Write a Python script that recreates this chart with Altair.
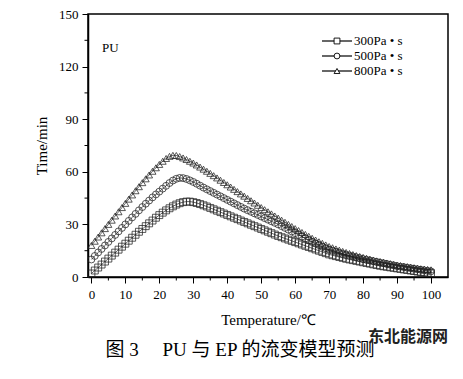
import altair as alt
import pandas as pd

# ---------------- data ----------------
temperature = list(range(0, 101))

time_300 = [2.0, 3.7, 5.4, 7.1, 8.8, 10.5, 12.2, 13.9, 15.6, 17.3,
            19.0, 20.7, 22.4, 24.1, 25.8, 27.4, 29.0, 30.6, 32.2, 33.8,
            35.3, 36.7, 38.0, 39.2, 40.3, 41.3, 42.1, 42.7, 43.0, 43.0,
            42.7, 42.2, 41.6, 40.9, 40.2, 39.4, 38.6, 37.8, 37.0, 36.2,
            35.4, 34.6, 33.8, 33.0, 32.2, 31.4, 30.6, 29.8, 29.0, 28.2,
            27.4, 26.6, 25.8, 25.0, 24.2, 23.4, 22.7, 22.0, 21.3, 20.6,
            19.9, 19.2, 18.5, 17.8, 17.1, 16.4, 15.7, 15.0, 14.3, 13.6,
            12.9, 12.4, 11.9, 11.4, 10.9, 10.4, 10.0, 9.6, 9.2, 8.8,
            8.4, 8.0, 7.6, 7.2, 6.8, 6.4, 6.1, 5.8, 5.5, 5.2,
            4.9, 4.6, 4.3, 4.0, 3.7, 3.4, 3.1, 2.8, 2.6, 2.4, 2.2]

time_500 = [10.0, 12.0, 14.0, 16.0, 18.0, 20.0, 22.0, 24.0, 26.0, 28.0,
            30.0, 32.0, 34.0, 36.0, 38.0, 39.9, 41.8, 43.6, 45.4, 47.1,
            48.7, 50.4, 52.0, 53.6, 55.0, 56.0, 56.5, 56.4, 55.9, 55.1,
            54.2, 53.2, 52.1, 51.0, 50.0, 49.0, 48.0, 47.0, 46.0, 45.0,
            44.0, 43.0, 42.0, 41.0, 40.0, 39.0, 38.1, 37.2, 36.3, 35.4,
            34.5, 33.6, 32.7, 31.8, 30.9, 30.0, 29.0, 28.0, 27.0, 26.0,
            25.0, 24.0, 23.0, 22.0, 21.0, 20.0, 19.1, 18.2, 17.3, 16.4,
            15.6, 15.0, 14.4, 13.8, 13.2, 12.7, 12.2, 11.7, 11.2, 10.7,
            10.2, 9.8, 9.4, 9.0, 8.6, 8.2, 7.8, 7.4, 7.0, 6.6,
            6.2, 5.9, 5.6, 5.3, 5.0, 4.7, 4.4, 4.1, 3.8, 3.5, 3.2]

time_800 = [18.0, 20.4, 22.8, 25.2, 27.6, 30.0, 32.4, 34.8, 37.2, 39.6,
            42.0, 44.4, 46.8, 49.2, 51.5, 53.8, 56.0, 58.2, 60.3, 62.3,
            64.2, 66.0, 67.6, 68.8, 69.4, 69.3, 68.7, 67.9, 67.0, 66.0,
            65.0, 63.9, 62.7, 61.5, 60.3, 59.1, 57.8, 56.5, 55.2, 53.9,
            52.6, 51.3, 50.0, 48.7, 47.4, 46.1, 44.8, 43.5, 42.2, 40.9,
            39.6, 38.4, 37.2, 36.0, 34.8, 33.6, 32.4, 31.2, 30.0, 28.8,
            27.6, 26.5, 25.4, 24.3, 23.2, 22.1, 21.1, 20.1, 19.2, 18.3,
            17.4, 16.7, 16.0, 15.3, 14.6, 14.0, 13.4, 12.8, 12.2, 11.7,
            11.2, 10.7, 10.2, 9.7, 9.2, 8.8, 8.4, 8.0, 7.6, 7.2,
            6.8, 6.5, 6.2, 5.9, 5.6, 5.3, 5.0, 4.7, 4.5, 4.3, 4.1]

series_names = ["300Pa • s", "500Pa • s", "800Pa • s"]
series_shapes = ["square", "circle", "triangle-up"]

x_major = list(range(0, 101, 10))
x_minor = list(range(5, 100, 10))
y_major = list(range(0, 151, 30))
y_minor = list(range(15, 150, 30))

panel_label = "PU"
x_title = "Temperature/℃"
y_title = "Time/min"
caption = "图 3　 PU 与 EP 的流变模型预测"
watermark = "东北能源网"

# ---------------- tables ----------------
rows = []
for name, vals in zip(series_names, [time_300, time_500, time_800]):
    for t, v in zip(temperature, vals):
        rows.append({"series": name, "T": t, "time": v})
df = pd.DataFrame(rows)

legend_df = pd.DataFrame({"series": series_names, "row": [0, 1, 2]})

SERIF = "Liberation Serif"

x_scale = alt.Scale(domain=[-1, 105], nice=False, zero=False)
y_scale = alt.Scale(domain=[0, 150], nice=False)
shape_scale = alt.Scale(domain=series_names, range=series_shapes)

axis_style = dict(grid=False, tickSize=6, tickColor="black", tickWidth=1,
                  domainColor="black", domainWidth=1.5,
                  labelFont=SERIF, labelFontSize=13, labelColor="black",
                  labelFontWeight="normal", labelOverlap=False,
                  titleFont=SERIF, titleFontSize=15, titleFontWeight="normal",
                  titleColor="black", format="d")

x_axis = alt.Axis(values=x_major, title=x_title, labelPadding=5,
                  titlePadding=11, **axis_style)
y_axis = alt.Axis(values=y_major, title=y_title, labelPadding=4,
                  titlePadding=9, **axis_style)

base = alt.Chart(df)

lines = base.mark_line(color="black", strokeWidth=0.6).encode(
    x=alt.X("T:Q", scale=x_scale, axis=x_axis),
    y=alt.Y("time:Q", scale=y_scale, axis=y_axis),
    detail="series:N",
)

points = base.mark_point(filled=False, color="#222222", strokeWidth=0.75,
                         opacity=1).encode(
    x=alt.X("T:Q", scale=x_scale, axis=x_axis),
    y=alt.Y("time:Q", scale=y_scale, axis=y_axis),
    shape=alt.Shape("series:N", scale=shape_scale, legend=None),
    size=alt.value(48),
)

minor_x = alt.Chart(pd.DataFrame({"v": x_minor})).mark_rule(
    color="black", strokeWidth=1).encode(
    x=alt.X("v:Q", scale=x_scale, axis=x_axis),
    y=alt.value(263), y2=alt.value(266.5),
)

minor_y = alt.Chart(pd.DataFrame({"v": y_minor})).mark_rule(
    color="black", strokeWidth=1).encode(
    y=alt.Y("v:Q", scale=y_scale, axis=y_axis),
    x=alt.value(0), x2=alt.value(-3.5),
)

leg = alt.Chart(legend_df).transform_calculate(py="27 + datum.row * 15")
leg_rule = leg.mark_rule(color="black", strokeWidth=1.2).encode(
    x=alt.value(234), x2=alt.value(264), y=alt.Y("py:Q", scale=None))
leg_pt = leg.mark_point(filled=True, fill="white", stroke="black",
                        strokeWidth=0.9, opacity=1).encode(
    x=alt.value(249), y=alt.Y("py:Q", scale=None),
    shape=alt.Shape("series:N", scale=shape_scale, legend=None),
    size=alt.value(34))
leg_txt = leg.mark_text(align="left", baseline="middle", font=SERIF,
                        fontSize=13, color="black").encode(
    x=alt.value(266), y=alt.Y("py:Q", scale=None), text="series:N")

pu = alt.Chart(pd.DataFrame({"t": [panel_label]})).mark_text(
    align="left", baseline="middle", font=SERIF, fontSize=13,
    color="black").encode(x=alt.value(14), y=alt.value(34), text="t:N")

cap = alt.Chart(pd.DataFrame({"t": [caption]})).mark_text(
    align="center", baseline="middle",
    font="Liberation Serif, Noto Sans CJK SC", fontSize=19,
    color="black").encode(x=alt.value(152), y=alt.value(336), text="t:N")

wm = alt.Chart(pd.DataFrame({"t": [watermark]})).mark_text(
    align="center", baseline="middle", font="Noto Sans CJK SC",
    fontSize=16, fontWeight="bold", color="#222222").encode(
    x=alt.value(320), y=alt.value(323), text="t:N")

chart = alt.layer(lines, points, minor_x, minor_y, leg_rule, leg_pt, leg_txt,
                  pu, cap, wm).properties(
    width=360, height=263,
    padding={"left": 80, "top": 6, "right": 7, "bottom": 92},
    autosize=alt.AutoSizeParams(type="none"),
).configure_view(
    stroke="black", strokeWidth=1.5
)

chart.save("out.html", embed_options={"renderer": "svg", "actions": False})
